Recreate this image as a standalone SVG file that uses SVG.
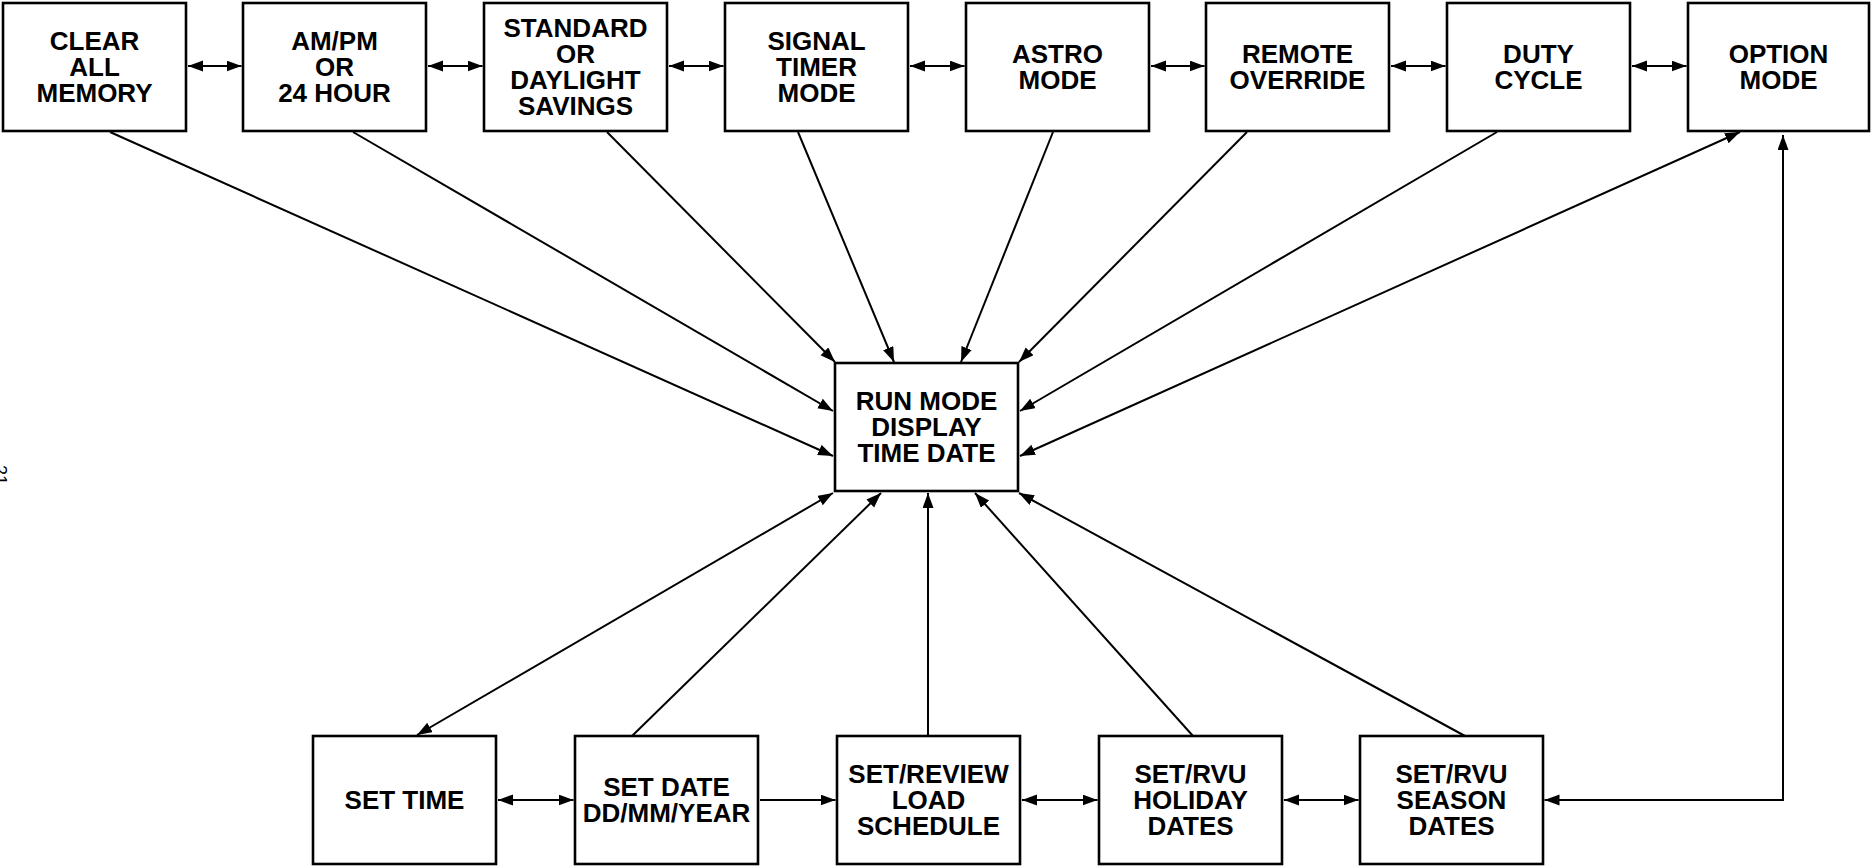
<svg xmlns="http://www.w3.org/2000/svg" width="1871" height="866" viewBox="0 0 1871 866">
<style>
.box{fill:#fff;stroke:#000;stroke-width:2.6}
.t{font-family:"Liberation Sans",Arial,sans-serif;font-weight:bold;font-size:26px;text-anchor:middle;fill:#000}
.c{stroke:#000;stroke-width:2;fill:none}
.e{marker-end:url(#ah)}
.b{marker-start:url(#ah);marker-end:url(#ah)}
</style>
<defs>
<marker id="ah" markerUnits="userSpaceOnUse" markerWidth="16" markerHeight="12" refX="15" refY="5.5" orient="auto-start-reverse" viewBox="0 0 16 12">
<path d="M0,0 L15,5.5 L0,11 Z" fill="#000"/>
</marker>
</defs>
<rect width="1871" height="866" fill="#fff"/>
<text x="-6" y="465" transform="rotate(90 -6 465)" font-family="Liberation Sans,Arial,sans-serif" font-size="18" fill="#000">21</text>
<g id="connectors">
<line class="c b" x1="188" y1="66" x2="241.5" y2="66"/>
<line class="c b" x1="428" y1="66" x2="482.5" y2="66"/>
<line class="c b" x1="669" y1="66" x2="723.5" y2="66"/>
<line class="c b" x1="910" y1="66" x2="964.5" y2="66"/>
<line class="c b" x1="1151" y1="66" x2="1204.5" y2="66"/>
<line class="c b" x1="1391" y1="66" x2="1445.5" y2="66"/>
<line class="c b" x1="1632" y1="66" x2="1686.5" y2="66"/>
<line class="c e" x1="110" y1="132" x2="833" y2="456"/>
<line class="c e" x1="353" y1="132" x2="833" y2="411"/>
<line class="c e" x1="607" y1="132" x2="835" y2="362"/>
<line class="c e" x1="798" y1="132" x2="894" y2="362"/>
<line class="c e" x1="1053" y1="132" x2="961" y2="362"/>
<line class="c e" x1="1247" y1="132" x2="1019" y2="362"/>
<line class="c e" x1="1497" y1="132" x2="1020" y2="411"/>
<line class="c b" x1="1740" y1="132" x2="1020" y2="456"/>
<path class="c b" d="M1544.5,800 H1783 V135"/>
<line class="c b" x1="417" y1="735" x2="833" y2="493"/>
<line class="c e" x1="632" y1="736" x2="881" y2="493"/>
<line class="c e" x1="928" y1="736" x2="928" y2="493"/>
<line class="c e" x1="1193" y1="736" x2="975" y2="493"/>
<line class="c e" x1="1465" y1="736" x2="1019" y2="493"/>
<line class="c b" x1="498" y1="800" x2="573.5" y2="800"/>
<line class="c e" x1="760" y1="800" x2="835.5" y2="800"/>
<line class="c b" x1="1022" y1="800" x2="1097.5" y2="800"/>
<line class="c b" x1="1284" y1="800" x2="1358.5" y2="800"/>
</g>
<g id="clear"><rect class="box" x="3" y="3" width="183" height="128"/><text class="t" x="94.5" y="50">CLEAR</text><text class="t" x="94.5" y="76">ALL</text><text class="t" x="94.5" y="102">MEMORY</text></g>
<g id="ampm"><rect class="box" x="243" y="3" width="183" height="128"/><text class="t" x="334.5" y="50">AM/PM</text><text class="t" x="334.5" y="76">OR</text><text class="t" x="334.5" y="102">24 HOUR</text></g>
<g id="standard"><rect class="box" x="484" y="3" width="183" height="128"/><text class="t" x="575.5" y="37">STANDARD</text><text class="t" x="575.5" y="63">OR</text><text class="t" x="575.5" y="89">DAYLIGHT</text><text class="t" x="575.5" y="115">SAVINGS</text></g>
<g id="signal"><rect class="box" x="725" y="3" width="183" height="128"/><text class="t" x="816.5" y="50">SIGNAL</text><text class="t" x="816.5" y="76">TIMER</text><text class="t" x="816.5" y="102">MODE</text></g>
<g id="astro"><rect class="box" x="966" y="3" width="183" height="128"/><text class="t" x="1057.5" y="63">ASTRO</text><text class="t" x="1057.5" y="89">MODE</text></g>
<g id="remote"><rect class="box" x="1206" y="3" width="183" height="128"/><text class="t" x="1297.5" y="63">REMOTE</text><text class="t" x="1297.5" y="89">OVERRIDE</text></g>
<g id="duty"><rect class="box" x="1447" y="3" width="183" height="128"/><text class="t" x="1538.5" y="63">DUTY</text><text class="t" x="1538.5" y="89">CYCLE</text></g>
<g id="option"><rect class="box" x="1688" y="3" width="181" height="128"/><text class="t" x="1778.5" y="63">OPTION</text><text class="t" x="1778.5" y="89">MODE</text></g>
<g id="run"><rect class="box" x="835" y="363" width="183" height="128"/><text class="t" x="926.5" y="410">RUN MODE</text><text class="t" x="926.5" y="436">DISPLAY</text><text class="t" x="926.5" y="462">TIME DATE</text></g>
<g id="settime"><rect class="box" x="313" y="736" width="183" height="128"/><text class="t" x="404.5" y="809">SET TIME</text></g>
<g id="setdate"><rect class="box" x="575" y="736" width="183" height="128"/><text class="t" x="666.5" y="796">SET DATE</text><text class="t" x="666.5" y="822">DD/MM/YEAR</text></g>
<g id="load"><rect class="box" x="837" y="736" width="183" height="128"/><text class="t" x="928.5" y="783">SET/REVIEW</text><text class="t" x="928.5" y="809">LOAD</text><text class="t" x="928.5" y="835">SCHEDULE</text></g>
<g id="holiday"><rect class="box" x="1099" y="736" width="183" height="128"/><text class="t" x="1190.5" y="783">SET/RVU</text><text class="t" x="1190.5" y="809">HOLIDAY</text><text class="t" x="1190.5" y="835">DATES</text></g>
<g id="season"><rect class="box" x="1360" y="736" width="183" height="128"/><text class="t" x="1451.5" y="783">SET/RVU</text><text class="t" x="1451.5" y="809">SEASON</text><text class="t" x="1451.5" y="835">DATES</text></g>
</svg>
